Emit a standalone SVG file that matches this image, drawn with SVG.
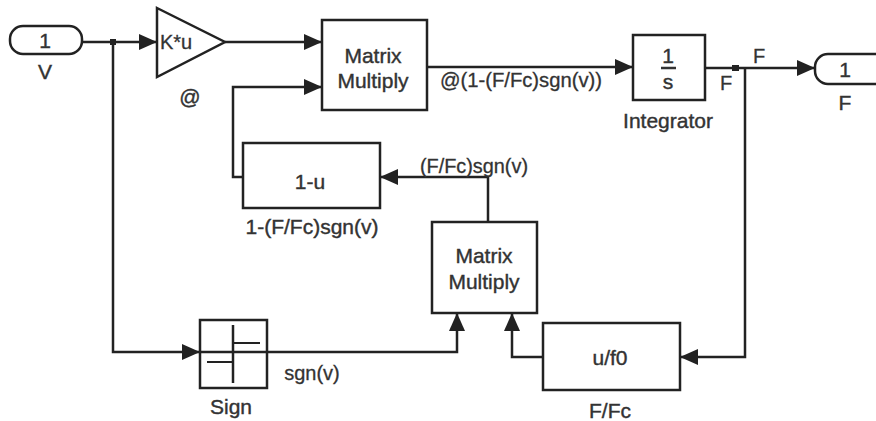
<svg xmlns="http://www.w3.org/2000/svg" width="876" height="421" viewBox="0 0 876 421">
<defs>
<marker id="arrL" viewBox="0 0 18 16" refX="18" refY="8" markerWidth="18" markerHeight="16" markerUnits="userSpaceOnUse" orient="auto">
<path d="M0,0 L18,8 L0,16 Z" fill="#222"/>
</marker>
</defs>
<style>
.blk{fill:#fff;stroke:#222;stroke-width:2.5}
.ln{fill:none;stroke:#222;stroke-width:2.5}
.t{font-family:"Liberation Sans",Arial,sans-serif;fill:#333;stroke:#333;stroke-width:0.4;font-size:21px;text-anchor:middle}
.l{font-family:"Liberation Sans",Arial,sans-serif;fill:#333;stroke:#333;stroke-width:0.3;font-size:20px;text-anchor:middle}
</style>
<rect width="876" height="421" fill="#fff"/>
<g id="connectors">
<path class="ln" d="M82,42 H157" marker-end="url(#arrL)"/>
<path class="ln" d="M113,42 V352 H200" marker-end="url(#arrL)"/>
<path class="ln" d="M225,42 H322" marker-end="url(#arrL)"/>
<path class="ln" d="M427,67 H633" marker-end="url(#arrL)"/>
<path class="ln" d="M705,68 H815" marker-end="url(#arrL)"/>
<path class="ln" d="M745,68 V357 H680" marker-end="url(#arrL)"/>
<path class="ln" d="M543,357 H512 V313" marker-end="url(#arrL)"/>
<path class="ln" d="M267,352 H457 V313" marker-end="url(#arrL)"/>
<path class="ln" d="M488,222 V177 H380" marker-end="url(#arrL)"/>
<path class="ln" d="M243,177 H233 V87 H322" marker-end="url(#arrL)"/>
<rect x="110" y="39" width="6" height="6" fill="#222"/>
<rect x="732" y="65" width="7" height="6" fill="#222"/>
<text class="l" x="521" y="87" textLength="162" lengthAdjust="spacingAndGlyphs">@(1-(F/Fc)sgn(v))</text>
<text class="l" x="726" y="90">F</text>
<text class="l" x="759" y="63">F</text>
<text class="l" x="474" y="173" textLength="108" lengthAdjust="spacingAndGlyphs">(F/Fc)sgn(v)</text>
<text class="l" x="312" y="380">sgn(v)</text>
</g>
<g id="inport">
<rect class="blk" x="10" y="26" width="72" height="28" rx="13"/>
<text class="t" x="45" y="48" font-size="22">1</text>
<text class="t" x="45" y="79">V</text>
</g>
<g id="gain">
<path class="blk" d="M157,8 L225,42 L157,77 Z"/>
<text class="l" x="176" y="49" font-size="18">K*u</text>
<text class="t" x="190" y="104">@</text>
</g>
<g id="mm1">
<rect class="blk" x="322" y="20" width="105" height="90"/>
<text class="t" x="373" y="63">Matrix</text>
<text class="t" x="373" y="88">Multiply</text>
</g>
<g id="integrator">
<rect class="blk" x="633" y="35" width="72" height="65"/>
<text class="t" x="668" y="63">1</text>
<line x1="661" y1="68" x2="676" y2="68" stroke="#333" stroke-width="2.5"/>
<text class="t" x="668" y="89">s</text>
<text class="t" x="668" y="128">Integrator</text>
</g>
<g id="outport">
<rect class="blk" x="815" y="54" width="80" height="30" rx="13"/>
<text class="t" x="845" y="77" font-size="22">1</text>
<text class="t" x="845" y="110">F</text>
</g>
<g id="oneminus">
<rect class="blk" x="243" y="143" width="137" height="65"/>
<text class="t" x="310" y="189">1-u</text>
<text class="t" x="312" y="234" textLength="133" lengthAdjust="spacingAndGlyphs">1-(F/Fc)sgn(v)</text>
</g>
<g id="mm2">
<rect class="blk" x="432" y="222" width="105" height="91"/>
<text class="t" x="484" y="263">Matrix</text>
<text class="t" x="484" y="289">Multiply</text>
</g>
<g id="sign">
<rect class="blk" x="200" y="320" width="67" height="68"/>
<line x1="233" y1="325" x2="233" y2="383" stroke="#222" stroke-width="2.5"/>
<line x1="233" y1="343" x2="260" y2="343" stroke="#222" stroke-width="2"/>
<line x1="207" y1="362" x2="233" y2="362" stroke="#222" stroke-width="2"/>
<line x1="200" y1="352" x2="267" y2="352" stroke="#222" stroke-width="2.5"/>
<text class="t" x="231" y="414">Sign</text>
</g>
<g id="gainf0">
<rect class="blk" x="543" y="323" width="137" height="67"/>
<text class="t" x="610" y="365">u/f0</text>
<text class="t" x="610" y="418">F/Fc</text>
</g>
</svg>
